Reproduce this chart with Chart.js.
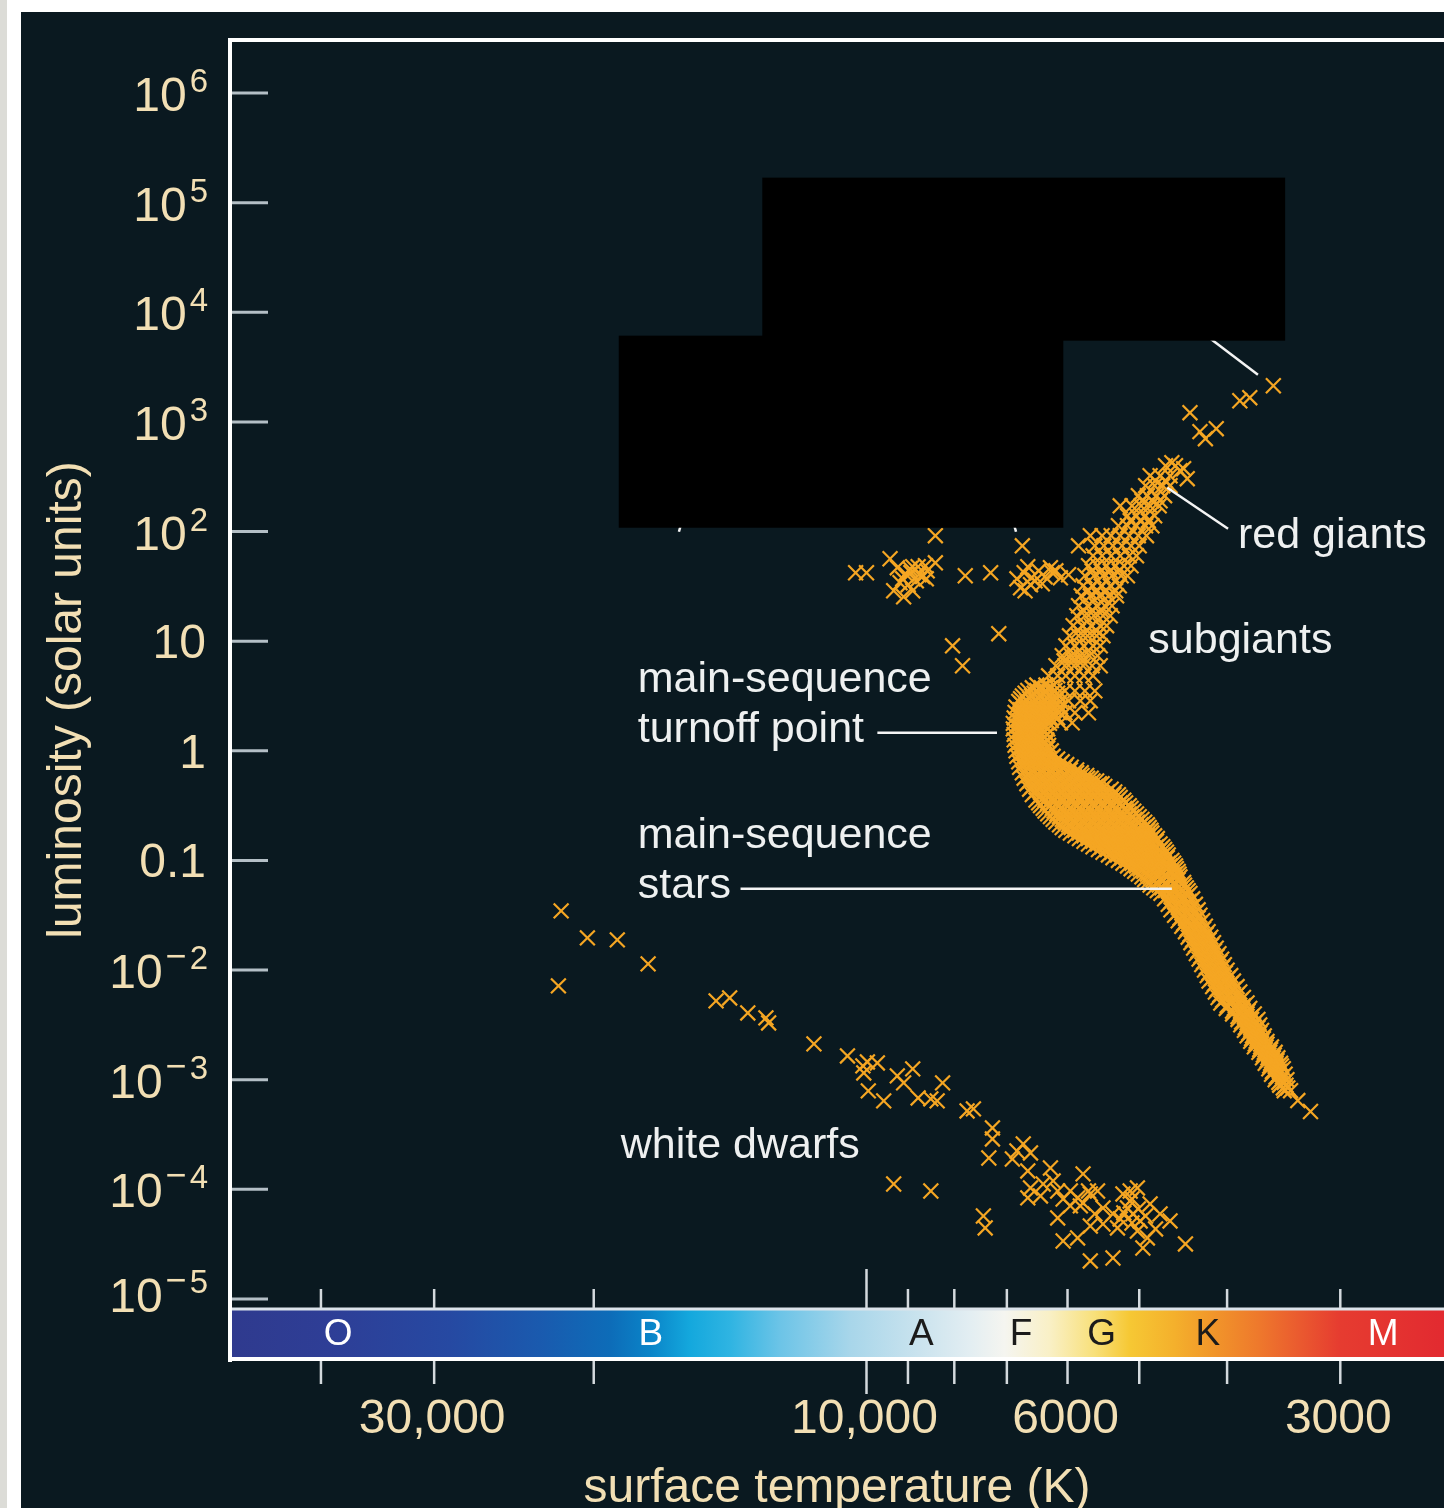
<!DOCTYPE html>
<html>
<head>
<meta charset="utf-8">
<title>H-R diagram of a star cluster</title>
<style>
  html, body { margin: 0; padding: 0; background: #ffffff; overflow: hidden; }
  canvas { display: block; }
</style>
<script src="https://cdn.jsdelivr.net/npm/chart.js@4.4.1/dist/chart.umd.min.js"></script>
</head>
<body>
<canvas id="hr" width="1444" height="1508"></canvas>
<script>
// ---- Cluster stars, tabulated as log10(Teff / K) and log10(L / Lsun) ----

// Main sequence: each row is [log L, [log T, ...]] across the width of the band
const mainSequenceRows = [
  [0.600, [3.812, 3.802, 3.793]],
  [0.575, [3.817, 3.807, 3.797]],
  [0.550, [3.822, 3.812, 3.802, 3.792]],
  [0.525, [3.825, 3.815, 3.805, 3.795, 3.789]],
  [0.500, [3.828, 3.818, 3.808, 3.798, 3.788]],
  [0.475, [3.830, 3.820, 3.810, 3.800, 3.790]],
  [0.450, [3.832, 3.823, 3.813, 3.803, 3.793, 3.786]],
  [0.425, [3.829, 3.819, 3.809, 3.799, 3.789]],
  [0.400, [3.835, 3.825, 3.815, 3.805, 3.795, 3.786]],
  [0.375, [3.830, 3.820, 3.810, 3.800, 3.790]],
  [0.350, [3.836, 3.826, 3.816, 3.806, 3.796, 3.787]],
  [0.325, [3.831, 3.821, 3.811, 3.801, 3.792]],
  [0.300, [3.837, 3.827, 3.817, 3.807, 3.797, 3.789]],
  [0.275, [3.832, 3.822, 3.812, 3.802, 3.796]],
  [0.250, [3.838, 3.828, 3.818, 3.808, 3.798]],
  [0.225, [3.833, 3.823, 3.813, 3.803]],
  [0.200, [3.838, 3.828, 3.818, 3.808, 3.800]],
  [0.175, [3.832, 3.822, 3.812, 3.803]],
  [0.150, [3.837, 3.827, 3.817, 3.807, 3.801]],
  [0.125, [3.832, 3.822, 3.812, 3.803]],
  [0.100, [3.837, 3.827, 3.817, 3.807, 3.801]],
  [0.075, [3.831, 3.821, 3.811, 3.802]],
  [0.050, [3.836, 3.826, 3.816, 3.806, 3.799]],
  [0.025, [3.830, 3.820, 3.810, 3.800]],
  [0.000, [3.835, 3.825, 3.815, 3.805, 3.796]],
  [-0.025, [3.829, 3.819, 3.809, 3.799]],
  [-0.050, [3.834, 3.824, 3.814, 3.804, 3.794]],
  [-0.075, [3.828, 3.818, 3.808, 3.798, 3.789]],
  [-0.100, [3.832, 3.822, 3.812, 3.802, 3.792, 3.784]],
  [-0.125, [3.827, 3.817, 3.807, 3.797, 3.787, 3.779]],
  [-0.150, [3.831, 3.821, 3.811, 3.801, 3.791, 3.781, 3.774]],
  [-0.175, [3.825, 3.815, 3.805, 3.795, 3.785, 3.775, 3.768]],
  [-0.200, [3.828, 3.818, 3.808, 3.798, 3.788, 3.778, 3.768, 3.763]],
  [-0.225, [3.822, 3.812, 3.802, 3.792, 3.782, 3.772, 3.762, 3.757]],
  [-0.250, [3.826, 3.816, 3.806, 3.796, 3.786, 3.776, 3.766, 3.756, 3.752]],
  [-0.275, [3.820, 3.810, 3.800, 3.790, 3.780, 3.770, 3.760, 3.750, 3.746]],
  [-0.300, [3.823, 3.813, 3.803, 3.793, 3.783, 3.773, 3.763, 3.753, 3.743, 3.740]],
  [-0.325, [3.817, 3.807, 3.797, 3.787, 3.777, 3.767, 3.757, 3.747, 3.737]],
  [-0.350, [3.820, 3.810, 3.800, 3.790, 3.780, 3.770, 3.760, 3.750, 3.740, 3.730]],
  [-0.375, [3.814, 3.804, 3.794, 3.784, 3.774, 3.764, 3.754, 3.744, 3.734, 3.726]],
  [-0.400, [3.817, 3.807, 3.797, 3.787, 3.777, 3.767, 3.757, 3.747, 3.737, 3.727, 3.722]],
  [-0.425, [3.810, 3.800, 3.790, 3.780, 3.770, 3.760, 3.750, 3.740, 3.730, 3.720]],
  [-0.450, [3.813, 3.803, 3.793, 3.783, 3.773, 3.763, 3.753, 3.743, 3.733, 3.723, 3.716]],
  [-0.475, [3.810, 3.800, 3.790, 3.780, 3.770, 3.760, 3.750, 3.740, 3.730, 3.720, 3.714]],
  [-0.500, [3.808, 3.798, 3.788, 3.778, 3.768, 3.758, 3.748, 3.738, 3.728, 3.718, 3.710]],
  [-0.525, [3.805, 3.795, 3.785, 3.775, 3.765, 3.755, 3.745, 3.735, 3.725, 3.715, 3.708]],
  [-0.550, [3.803, 3.793, 3.783, 3.773, 3.763, 3.753, 3.743, 3.733, 3.723, 3.713, 3.705]],
  [-0.575, [3.800, 3.790, 3.780, 3.770, 3.760, 3.750, 3.740, 3.730, 3.720, 3.710, 3.702]],
  [-0.600, [3.797, 3.787, 3.777, 3.767, 3.757, 3.747, 3.737, 3.727, 3.717, 3.707, 3.699]],
  [-0.625, [3.794, 3.784, 3.774, 3.764, 3.754, 3.744, 3.734, 3.724, 3.714, 3.704, 3.696]],
  [-0.650, [3.791, 3.781, 3.771, 3.761, 3.751, 3.741, 3.731, 3.721, 3.711, 3.701, 3.693]],
  [-0.675, [3.787, 3.777, 3.767, 3.757, 3.747, 3.737, 3.727, 3.717, 3.707, 3.697, 3.690]],
  [-0.700, [3.784, 3.774, 3.764, 3.754, 3.744, 3.734, 3.724, 3.714, 3.704, 3.694, 3.688]],
  [-0.725, [3.780, 3.770, 3.760, 3.750, 3.740, 3.730, 3.720, 3.710, 3.700, 3.690, 3.686]],
  [-0.750, [3.775, 3.765, 3.755, 3.745, 3.735, 3.725, 3.715, 3.705, 3.695, 3.685]],
  [-0.775, [3.770, 3.760, 3.750, 3.740, 3.730, 3.720, 3.710, 3.700, 3.690, 3.682]],
  [-0.800, [3.765, 3.755, 3.745, 3.735, 3.725, 3.715, 3.705, 3.695, 3.685, 3.679]],
  [-0.825, [3.760, 3.750, 3.740, 3.730, 3.720, 3.710, 3.700, 3.690, 3.680]],
  [-0.850, [3.755, 3.745, 3.735, 3.725, 3.715, 3.705, 3.695, 3.685, 3.676]],
  [-0.875, [3.750, 3.740, 3.730, 3.720, 3.710, 3.700, 3.690, 3.680, 3.673]],
  [-0.900, [3.744, 3.734, 3.724, 3.714, 3.704, 3.694, 3.684, 3.676, 3.671]],
  [-0.925, [3.739, 3.729, 3.719, 3.709, 3.699, 3.689, 3.679, 3.669]],
  [-0.950, [3.733, 3.723, 3.713, 3.703, 3.693, 3.683, 3.673, 3.667]],
  [-0.975, [3.728, 3.718, 3.708, 3.698, 3.688, 3.678, 3.668]],
  [-1.000, [3.722, 3.712, 3.702, 3.692, 3.682, 3.672, 3.663]],
  [-1.025, [3.717, 3.707, 3.697, 3.687, 3.677, 3.667, 3.661]],
  [-1.050, [3.712, 3.702, 3.692, 3.682, 3.672, 3.665, 3.659]],
  [-1.075, [3.708, 3.698, 3.688, 3.678, 3.668, 3.658]],
  [-1.100, [3.704, 3.694, 3.684, 3.674, 3.664, 3.656]],
  [-1.125, [3.700, 3.690, 3.680, 3.670, 3.660, 3.655]],
  [-1.150, [3.696, 3.687, 3.678, 3.669, 3.661, 3.654]],
  [-1.175, [3.693, 3.684, 3.675, 3.665, 3.656]],
  [-1.200, [3.690, 3.680, 3.670, 3.660, 3.650]],
  [-1.225, [3.687, 3.677, 3.668, 3.659, 3.649]],
  [-1.250, [3.683, 3.674, 3.665, 3.656, 3.647]],
  [-1.275, [3.679, 3.670, 3.660, 3.650, 3.645]],
  [-1.300, [3.675, 3.665, 3.654, 3.643]],
  [-1.325, [3.668, 3.657, 3.646]],
  [-1.350, [3.671, 3.661, 3.651, 3.640]],
  [-1.375, [3.664, 3.654, 3.644]],
  [-1.400, [3.667, 3.657, 3.647, 3.637]],
  [-1.425, [3.661, 3.651, 3.641]],
  [-1.450, [3.664, 3.654, 3.644, 3.634]],
  [-1.475, [3.657, 3.647, 3.637]],
  [-1.500, [3.660, 3.651, 3.641, 3.632]],
  [-1.525, [3.654, 3.644, 3.634]],
  [-1.550, [3.656, 3.647, 3.638, 3.629]],
  [-1.575, [3.650, 3.641, 3.632]],
  [-1.600, [3.652, 3.643, 3.634, 3.626]],
  [-1.625, [3.646, 3.637, 3.628]],
  [-1.650, [3.648, 3.640, 3.631, 3.623]],
  [-1.675, [3.643, 3.634, 3.625]],
  [-1.700, [3.645, 3.637, 3.628, 3.620]],
  [-1.725, [3.640, 3.631, 3.622]],
  [-1.750, [3.642, 3.634, 3.625, 3.617]],
  [-1.775, [3.637, 3.628, 3.619]],
  [-1.800, [3.639, 3.631, 3.622, 3.614]],
  [-1.825, [3.634, 3.625, 3.616]],
  [-1.850, [3.636, 3.628, 3.619, 3.611]],
  [-1.875, [3.631, 3.622, 3.613]],
  [-1.900, [3.633, 3.625, 3.616, 3.608]],
  [-1.925, [3.628, 3.619, 3.610]],
  [-1.950, [3.630, 3.622, 3.613, 3.605]],
  [-1.975, [3.625, 3.616, 3.607]],
  [-2.000, [3.627, 3.619, 3.610, 3.602]],
  [-2.025, [3.622, 3.613, 3.604]],
  [-2.050, [3.624, 3.616, 3.607, 3.598]],
  [-2.075, [3.619, 3.610, 3.601]],
  [-2.100, [3.622, 3.613, 3.604, 3.595]],
  [-2.125, [3.616, 3.607, 3.598]],
  [-2.150, [3.618, 3.609, 3.600, 3.591]],
  [-2.175, [3.613, 3.604, 3.595]],
  [-2.200, [3.615, 3.606, 3.597, 3.588]],
  [-2.225, [3.610, 3.601, 3.591]],
  [-2.250, [3.612, 3.603, 3.594, 3.584]],
  [-2.275, [3.607, 3.597, 3.587]],
  [-2.300, [3.609, 3.599, 3.590, 3.580]],
  [-2.325, [3.602, 3.593, 3.584]],
  [-2.350, [3.603, 3.594, 3.585, 3.577]],
  [-2.375, [3.596, 3.587, 3.579]],
  [-2.400, [3.596, 3.588, 3.580, 3.572]],
  [-2.425, [3.590, 3.582, 3.575]],
  [-2.450, [3.590, 3.582, 3.575, 3.568]],
  [-2.475, [3.586, 3.578, 3.571]],
  [-2.500, [3.587, 3.580, 3.573, 3.566]],
  [-2.525, [3.582, 3.575, 3.568]],
  [-2.550, [3.583, 3.576, 3.570, 3.564]],
  [-2.575, [3.578, 3.572, 3.566]],
  [-2.600, [3.580, 3.574, 3.567, 3.561]],
  [-2.625, [3.575, 3.569, 3.562]],
  [-2.650, [3.576, 3.570, 3.564, 3.558]],
  [-2.675, [3.571, 3.565, 3.558]],
  [-2.700, [3.572, 3.565, 3.559, 3.553]],
  [-2.725, [3.566, 3.560, 3.554]],
  [-2.750, [3.567, 3.561, 3.555, 3.549]],
  [-2.775, [3.562, 3.556, 3.550]],
  [-2.800, [3.563, 3.557, 3.551, 3.546]],
  [-2.825, [3.558, 3.552, 3.547]],
  [-2.850, [3.560, 3.554, 3.548, 3.543]],
  [-2.875, [3.555, 3.548, 3.542]],
  [-2.900, [3.556, 3.548, 3.540]],
  [-2.925, [3.552, 3.544]],
  [-2.950, [3.553, 3.545, 3.538]],
  [-2.975, [3.548, 3.541]],
  [-3.000, [3.549, 3.542, 3.536]],
  [-3.025, [3.545, 3.539]],
  [-3.050, [3.544, 3.537]],
  [-3.075, [3.540, 3.535]],
  [-3.100, [3.539, 3.532]],
  [-3.190, [3.524]],
  [-3.290, [3.510]]
];

// Subgiant and red-giant branch, same row layout
const giantBranchRows = [
  [2.600, [3.670, 3.659]],
  [2.509, [3.687, 3.676, 3.665]],
  [2.464, [3.681, 3.670]],
  [2.418, [3.692, 3.682, 3.673, 3.665]],
  [2.327, [3.700, 3.690, 3.680, 3.671]],
  [2.281, [3.696, 3.685, 3.676]],
  [2.235, [3.720, 3.707, 3.697, 3.687, 3.677]],
  [2.144, [3.712, 3.702, 3.692, 3.682]],
  [2.099, [3.709, 3.698, 3.689]],
  [2.053, [3.722, 3.712, 3.702, 3.692, 3.685]],
  [1.962, [3.753, 3.740, 3.730, 3.720, 3.710, 3.700, 3.691]],
  [1.870, [3.766, 3.748, 3.738, 3.728, 3.718, 3.708, 3.699]],
  [1.779, [3.750, 3.740, 3.730, 3.720, 3.710, 3.702]],
  [1.688, [3.755, 3.745, 3.735, 3.725, 3.716, 3.708]],
  [1.642, [3.751, 3.741, 3.731, 3.721]],
  [1.597, [3.759, 3.749, 3.739, 3.729, 3.719, 3.712]],
  [1.505, [3.761, 3.751, 3.741, 3.731, 3.721]],
  [1.460, [3.755, 3.745, 3.735, 3.725]],
  [1.414, [3.763, 3.753, 3.743, 3.733, 3.724]],
  [1.323, [3.766, 3.756, 3.746, 3.737, 3.729]],
  [1.277, [3.760, 3.750, 3.740]],
  [1.232, [3.768, 3.759, 3.749, 3.739, 3.731]],
  [1.141, [3.772, 3.762, 3.752, 3.742, 3.735]],
  [1.095, [3.766, 3.756, 3.746]],
  [1.049, [3.776, 3.766, 3.756, 3.746, 3.739]],
  [0.958, [3.780, 3.770, 3.760, 3.750, 3.742]],
  [0.912, [3.775, 3.765, 3.755]],
  [0.867, [3.784, 3.774, 3.764, 3.754, 3.745]],
  [0.821, [3.782, 3.772, 3.762]],
  [0.776, [3.791, 3.781, 3.771, 3.761, 3.751, 3.742]],
  [0.684, [3.799, 3.789, 3.780, 3.770, 3.760, 3.750]],
  [0.547, [3.781, 3.770, 3.759, 3.748]],
  [0.456, [3.777, 3.764, 3.753]],
  [0.347, [3.781, 3.770, 3.755]],
  [0.255, [3.786, 3.773]]
];

// Brightest giants near the tip of the branch: [log T, log L]
const brightGiants = [
  [3.551, 3.330], [3.577, 3.221], [3.588, 3.193], [3.643, 3.084],
  [3.632, 2.911], [3.614, 2.938], [3.626, 2.847],
  [3.654, 2.555], [3.663, 2.628], [3.650, 2.573], [3.646, 2.482]
];

// Horizontal-branch clumps and scattered stars above the turnoff: [log T, log L]
const horizontalBranch = [
  [4.012, 1.624], [4.000, 1.624], [3.974, 1.752], [3.966, 1.670], [3.957, 1.615],
  [3.949, 1.679], [3.942, 1.606], [3.933, 1.642], [3.924, 1.715], [3.963, 1.533],
  [3.954, 1.515], [3.945, 1.551], [3.970, 1.460], [3.959, 1.405], [3.934, 1.569],
  [3.952, 1.660], [3.938, 1.590], [3.951, 1.624], [3.943, 1.679], [3.960, 1.569],
  [3.935, 1.688], [3.949, 1.460],
  [3.924, 1.962], [3.891, 1.597], [3.863, 1.624], [3.828, 1.870],
  [3.905, 0.958], [3.894, 0.776], [3.854, 1.068],
  [3.834, 1.569], [3.826, 1.624], [3.818, 1.578], [3.810, 1.642], [3.803, 1.588],
  [3.795, 1.624], [3.786, 1.578], [3.777, 1.606], [3.830, 1.487], [3.819, 1.515],
  [3.806, 1.524], [3.822, 1.679], [3.797, 1.670], [3.814, 1.551], [3.791, 1.642],
  [3.825, 1.460]
];

// White-dwarf sequence: [log T, log L]
const whiteDwarfs = [
  [4.337, -1.460], [4.308, -1.706], [4.275, -1.724], [4.241, -1.943], [4.340, -2.144],
  [4.166, -2.281], [4.151, -2.254], [4.131, -2.391], [4.111, -2.436], [4.108, -2.482],
  [4.058, -2.673], [4.021, -2.783], [4.004, -2.874], [3.999, -2.838], [3.988, -2.847],
  [4.003, -2.938], [3.998, -3.102], [3.981, -3.193], [3.966, -2.965], [3.949, -2.901],
  [3.959, -3.029], [3.943, -3.166], [3.929, -3.175], [3.922, -3.193], [3.916, -3.029],
  [3.889, -3.285], [3.882, -3.266], [3.861, -3.440], [3.861, -3.540], [3.865, -3.714],
  [3.834, -3.650], [3.827, -3.586], [3.819, -3.668], [3.839, -3.723], [3.822, -3.832],
  [3.797, -3.805], [3.819, -3.987], [3.805, -3.951], [3.794, -3.923], [3.822, -4.078],
  [3.789, -4.015], [3.783, -4.088], [3.767, -4.078], [3.761, -4.124], [3.753, -4.042],
  [3.761, -3.859], [3.745, -4.015], [3.739, -4.170], [3.728, -4.224], [3.717, -4.042],
  [3.709, -4.015], [3.701, -3.987], [3.712, -4.170], [3.706, -4.224], [3.698, -4.288],
  [3.687, -4.133], [3.676, -4.224], [3.665, -4.288], [3.701, -4.380], [3.690, -4.443],
  [3.789, -4.261], [3.783, -4.471], [3.767, -4.443], [3.753, -4.653], [3.728, -4.626],
  [3.695, -4.535], [3.648, -4.498], [3.739, -4.316], [3.723, -4.352], [3.970, -3.951],
  [3.929, -4.015], [3.871, -4.243], [3.869, -4.352], [3.775, -4.151], [3.748, -4.224],
  [3.720, -4.270], [3.709, -4.106], [3.692, -4.243], [3.808, -4.060], [3.753, -4.334],
  [3.681, -4.361], [3.707, -4.088], [3.716, -4.215], [3.700, -4.179], [3.707, -4.307],
  [3.764, -4.151], [3.755, -4.015], [3.775, -4.015]
];

// ---- Axes ----
const tempTicks = [40000, 30000, 20000, 10000, 9000, 8000, 7000, 6000, 5000, 4000, 3000];
const labelledTemps = [30000, 10000, 6000, 3000];
const tempLabels = ['30,000', '10,000', '6000', '3000'];
const lumExponents = [6, 5, 4, 3, 2, 1, 0, -1, -2, -3, -4, -5];
const spectralClasses = ['O', 'B', 'A', 'F', 'G', 'K', 'M'];
const classTemps = [38300, 17300, 8700, 6750, 5500, 4200, 2690];

const TEMP_MAX = 50400, TEMP_MIN = 2305;
const LUM_MAX = 3.044e6, LUM_MIN = 2.777e-6;

// ---- Styling ----
const STAR = '#f5a623';
const CREAM = '#f2dfb4';
const INK = '#eef0f0';
const PANEL = '#0a1920';
const TICK = '#d3d9dd';
const FONT = '"Liberation Sans", Arial, Helvetica, sans-serif';
const classInk = ['#ffffff', '#ffffff', '#1b1b1b', '#1b1b1b', '#1b1b1b', '#1b1b1b', '#ffffff'];
const bandStops = [
  [0.000, '#2f3a8e'], [0.082, '#2e3e96'], [0.181, '#2649a2'], [0.255, '#1a5aae'],
  [0.313, '#0d6cb8'], [0.346, '#0a84c8'], [0.379, '#14a8dd'], [0.412, '#2fb4e2'],
  [0.453, '#6cc4e7'], [0.511, '#a8d6ea'], [0.568, '#cae3ee'], [0.610, '#e3eef2'],
  [0.638, '#f5f5f0'], [0.675, '#f9f0c6'], [0.712, '#f8e07a'], [0.741, '#f6c834'],
  [0.778, '#f4b02c'], [0.811, '#f1952a'], [0.848, '#ee782c'], [0.881, '#ea5a2f'],
  [0.914, '#e63c30'], [1.000, '#e22a30']
];

const rowsToPoints = rows => rows.flatMap(([logL, temps]) => temps.map(logT => ({ x: 10 ** logT, y: 10 ** logL })));
const pairsToPoints = pairs => pairs.map(([logT, logL]) => ({ x: 10 ** logT, y: 10 ** logL }));

const starDataset = (label, data) => ({
  label, data,
  showLine: false,
  pointStyle: 'crossRot',
  pointRadius: 10.5,
  pointHoverRadius: 10.5,
  pointBorderColor: STAR,
  pointBackgroundColor: STAR,
  pointBorderWidth: 2.2,
  pointHoverBorderWidth: 2.2
});

// Frame, ticks, spectral band, labels and call-outs
const hrDecor = {
  id: 'hrDecor',
  beforeDraw(chart) {
    const { ctx, width, height } = chart;
    ctx.save();
    ctx.fillStyle = '#ffffff';
    ctx.fillRect(0, 0, width, height);
    ctx.fillStyle = '#dcdcd7';
    ctx.fillRect(0, 0, 7, height);
    ctx.fillStyle = PANEL;
    ctx.fillRect(21, 12, width - 21, height - 12);
    ctx.restore();
  },
  afterDatasetsDraw(chart) {
    const { ctx, chartArea: a, scales } = chart;
    const X = t => scales.x.getPixelForValue(t);
    const Y = l => scales.y.getPixelForValue(l);
    const P = (logT, logL) => [X(10 ** logT), Y(10 ** logL)];
    const line = (x1, y1, x2, y2, w, c) => {
      ctx.beginPath();
      ctx.lineWidth = w;
      ctx.strokeStyle = c;
      ctx.lineCap = 'butt';
      ctx.moveTo(x1, y1);
      ctx.lineTo(x2, y2);
      ctx.stroke();
    };
    ctx.save();

    // spectral-class colour band along the bottom of the plot
    const barTop = a.bottom - 51, barBottom = a.bottom - 2;
    const grad = ctx.createLinearGradient(a.left, 0, a.right, 0);
    bandStops.forEach(([f, c]) => grad.addColorStop(f, c));
    ctx.fillStyle = grad;
    ctx.fillRect(a.left, barTop, a.right - a.left, barBottom - barTop);
    line(a.left, barTop, a.right, barTop, 3, '#dbe3ea');
    line(a.left, a.bottom - 1, a.right, a.bottom - 1, 4, '#ffffff');
    ctx.font = `37px ${FONT}`;
    ctx.textAlign = 'center';
    ctx.textBaseline = 'middle';
    spectralClasses.forEach((c, i) => {
      ctx.fillStyle = classInk[i];
      ctx.fillText(c, X(classTemps[i]), (barTop + barBottom) / 2 + 1);
    });

    // temperature ticks above and below the band
    tempTicks.forEach(t => {
      const x = X(t);
      const major = t === 10000;
      line(x, barTop - (major ? 40 : 20), x, barTop - 1, 2.5, TICK);
      line(x, a.bottom + 1, x, a.bottom + (major ? 34 : 24), 2.5, TICK);
    });
    ctx.font = `48px ${FONT}`;
    ctx.fillStyle = CREAM;
    ctx.textAlign = 'center';
    ctx.textBaseline = 'alphabetic';
    labelledTemps.forEach((t, i) => ctx.fillText(tempLabels[i], X(t) - 2, a.bottom + 73));

    // plot frame
    line(a.left, a.top - 2, a.left, a.bottom + 2, 4, '#ffffff');
    line(a.left - 2, a.top, a.right, a.top, 4, '#ffffff');

    // luminosity ticks and power-of-ten labels
    const right = 208;
    const lowest = Math.min(...lumExponents);
    lumExponents.forEach(e => {
      const yt = Y(10 ** e);
      line(a.left + 2, yt, a.left + 38, yt, 3, '#b4bfc6');
      const y = e === lowest ? yt - 5 : yt;   // lift the bottom label clear of the band
      ctx.fillStyle = CREAM;
      ctx.textAlign = 'right';
      ctx.textBaseline = 'alphabetic';
      if (e >= -1 && e <= 1) {
        ctx.font = `48px ${FONT}`;
        ctx.fillText(e === 1 ? '10' : e === 0 ? '1' : '0.1', right - 2, y + 17);
        return;
      }
      ctx.font = `33px ${FONT}`;
      const digit = String(Math.abs(e));
      const dw = ctx.measureText(digit).width;
      ctx.fillText(digit, right, y - 1);
      let edge = right - dw;
      if (e < 0) {
        ctx.font = `36px ${FONT}`;
        const mw = ctx.measureText('\u2212').width;
        ctx.fillText('\u2212', edge - 3, y - 2);
        edge -= mw + 3;
      }
      ctx.font = `48px ${FONT}`;
      ctx.fillText('10', edge - 3, y + 18);
    });

    // call-out lines
    const leaders = [
      [[3.988, 0.164], [3.856, 0.164]],
      [[4.139, -1.259], [3.663, -1.259]],
      [[3.668, 2.400], [3.601, 2.026]],
      [[3.632, 3.832], [3.568, 3.431]],
      [[4.202, 2.144], [4.207, 1.998]],
      [[3.840, 2.144], [3.835, 1.998]]
    ];
    leaders.forEach(([p, q]) => {
      const [x1, y1] = P(p[0], p[1]);
      const [x2, y2] = P(q[0], q[1]);
      line(x1, y1, x2, y2, 2.5, '#f4f4f4');
    });

    // region names
    const names = [
      ['red giants', 3.590, 1.852],
      ['subgiants', 3.689, 0.894],
      ['main-sequence', 4.2525, 0.538],
      ['turnoff point', 4.2525, 0.082],
      ['main-sequence', 4.2525, -0.885],
      ['stars', 4.2525, -1.341],
      ['white dwarfs', 4.2712, -3.714]
    ];
    ctx.font = `43px ${FONT}`;
    ctx.fillStyle = INK;
    ctx.textAlign = 'left';
    ctx.textBaseline = 'alphabetic';
    names.forEach(([text, lt, ll]) => {
      const [x, y] = P(lt, ll);
      ctx.fillText(text, x, y);
    });

    // solid masks
    const masks = [
      [[4.115, 5.228], [3.538, 3.741]],
      [[4.2734, 3.7865], [3.7828, 2.0347]]
    ];
    ctx.fillStyle = '#000000';
    masks.forEach(([p, q]) => {
      const [x1, y1] = P(p[0], p[1]);
      const [x2, y2] = P(q[0], q[1]);
      ctx.fillRect(x1, y1, x2 - x1, y2 - y1);
    });

    ctx.restore();
  }
};

new Chart(document.getElementById('hr'), {
  type: 'scatter',
  data: {
    datasets: [
      starDataset('main sequence', rowsToPoints(mainSequenceRows)),
      starDataset('subgiants and red giants', rowsToPoints(giantBranchRows)),
      starDataset('bright giants', pairsToPoints(brightGiants)),
      starDataset('horizontal branch', pairsToPoints(horizontalBranch)),
      starDataset('white dwarfs', pairsToPoints(whiteDwarfs))
    ]
  },
  options: {
    responsive: false,
    animation: false,
    devicePixelRatio: 1,
    events: [],
    layout: { autoPadding: false, padding: { top: 40, left: 0, right: 0, bottom: 0 } },
    plugins: { legend: { display: false }, tooltip: { enabled: false } },
    scales: {
      x: {
        type: 'logarithmic',
        reverse: true,
        min: TEMP_MIN,
        max: TEMP_MAX,
        grid: { display: false },
        border: { display: false },
        ticks: { display: false },
        title: {
          display: true,
          text: 'surface temperature (K)',
          color: CREAM,
          font: { family: FONT, size: 48, lineHeight: 0.8 },
          padding: { top: 0, bottom: 0 }
        },
        afterFit(scale) { scale.height = 148; }
      },
      y: {
        type: 'logarithmic',
        min: LUM_MIN,
        max: LUM_MAX,
        grid: { display: false },
        border: { display: false },
        ticks: { display: false },
        title: {
          display: true,
          text: 'luminosity (solar units)',
          color: CREAM,
          font: { family: FONT, size: 48, lineHeight: 1.2 },
          padding: { top: 39, bottom: 0 }
        },
        afterFit(scale) { scale.width = 230; }
      }
    }
  },
  plugins: [hrDecor]
});
</script>
</body>
</html>
